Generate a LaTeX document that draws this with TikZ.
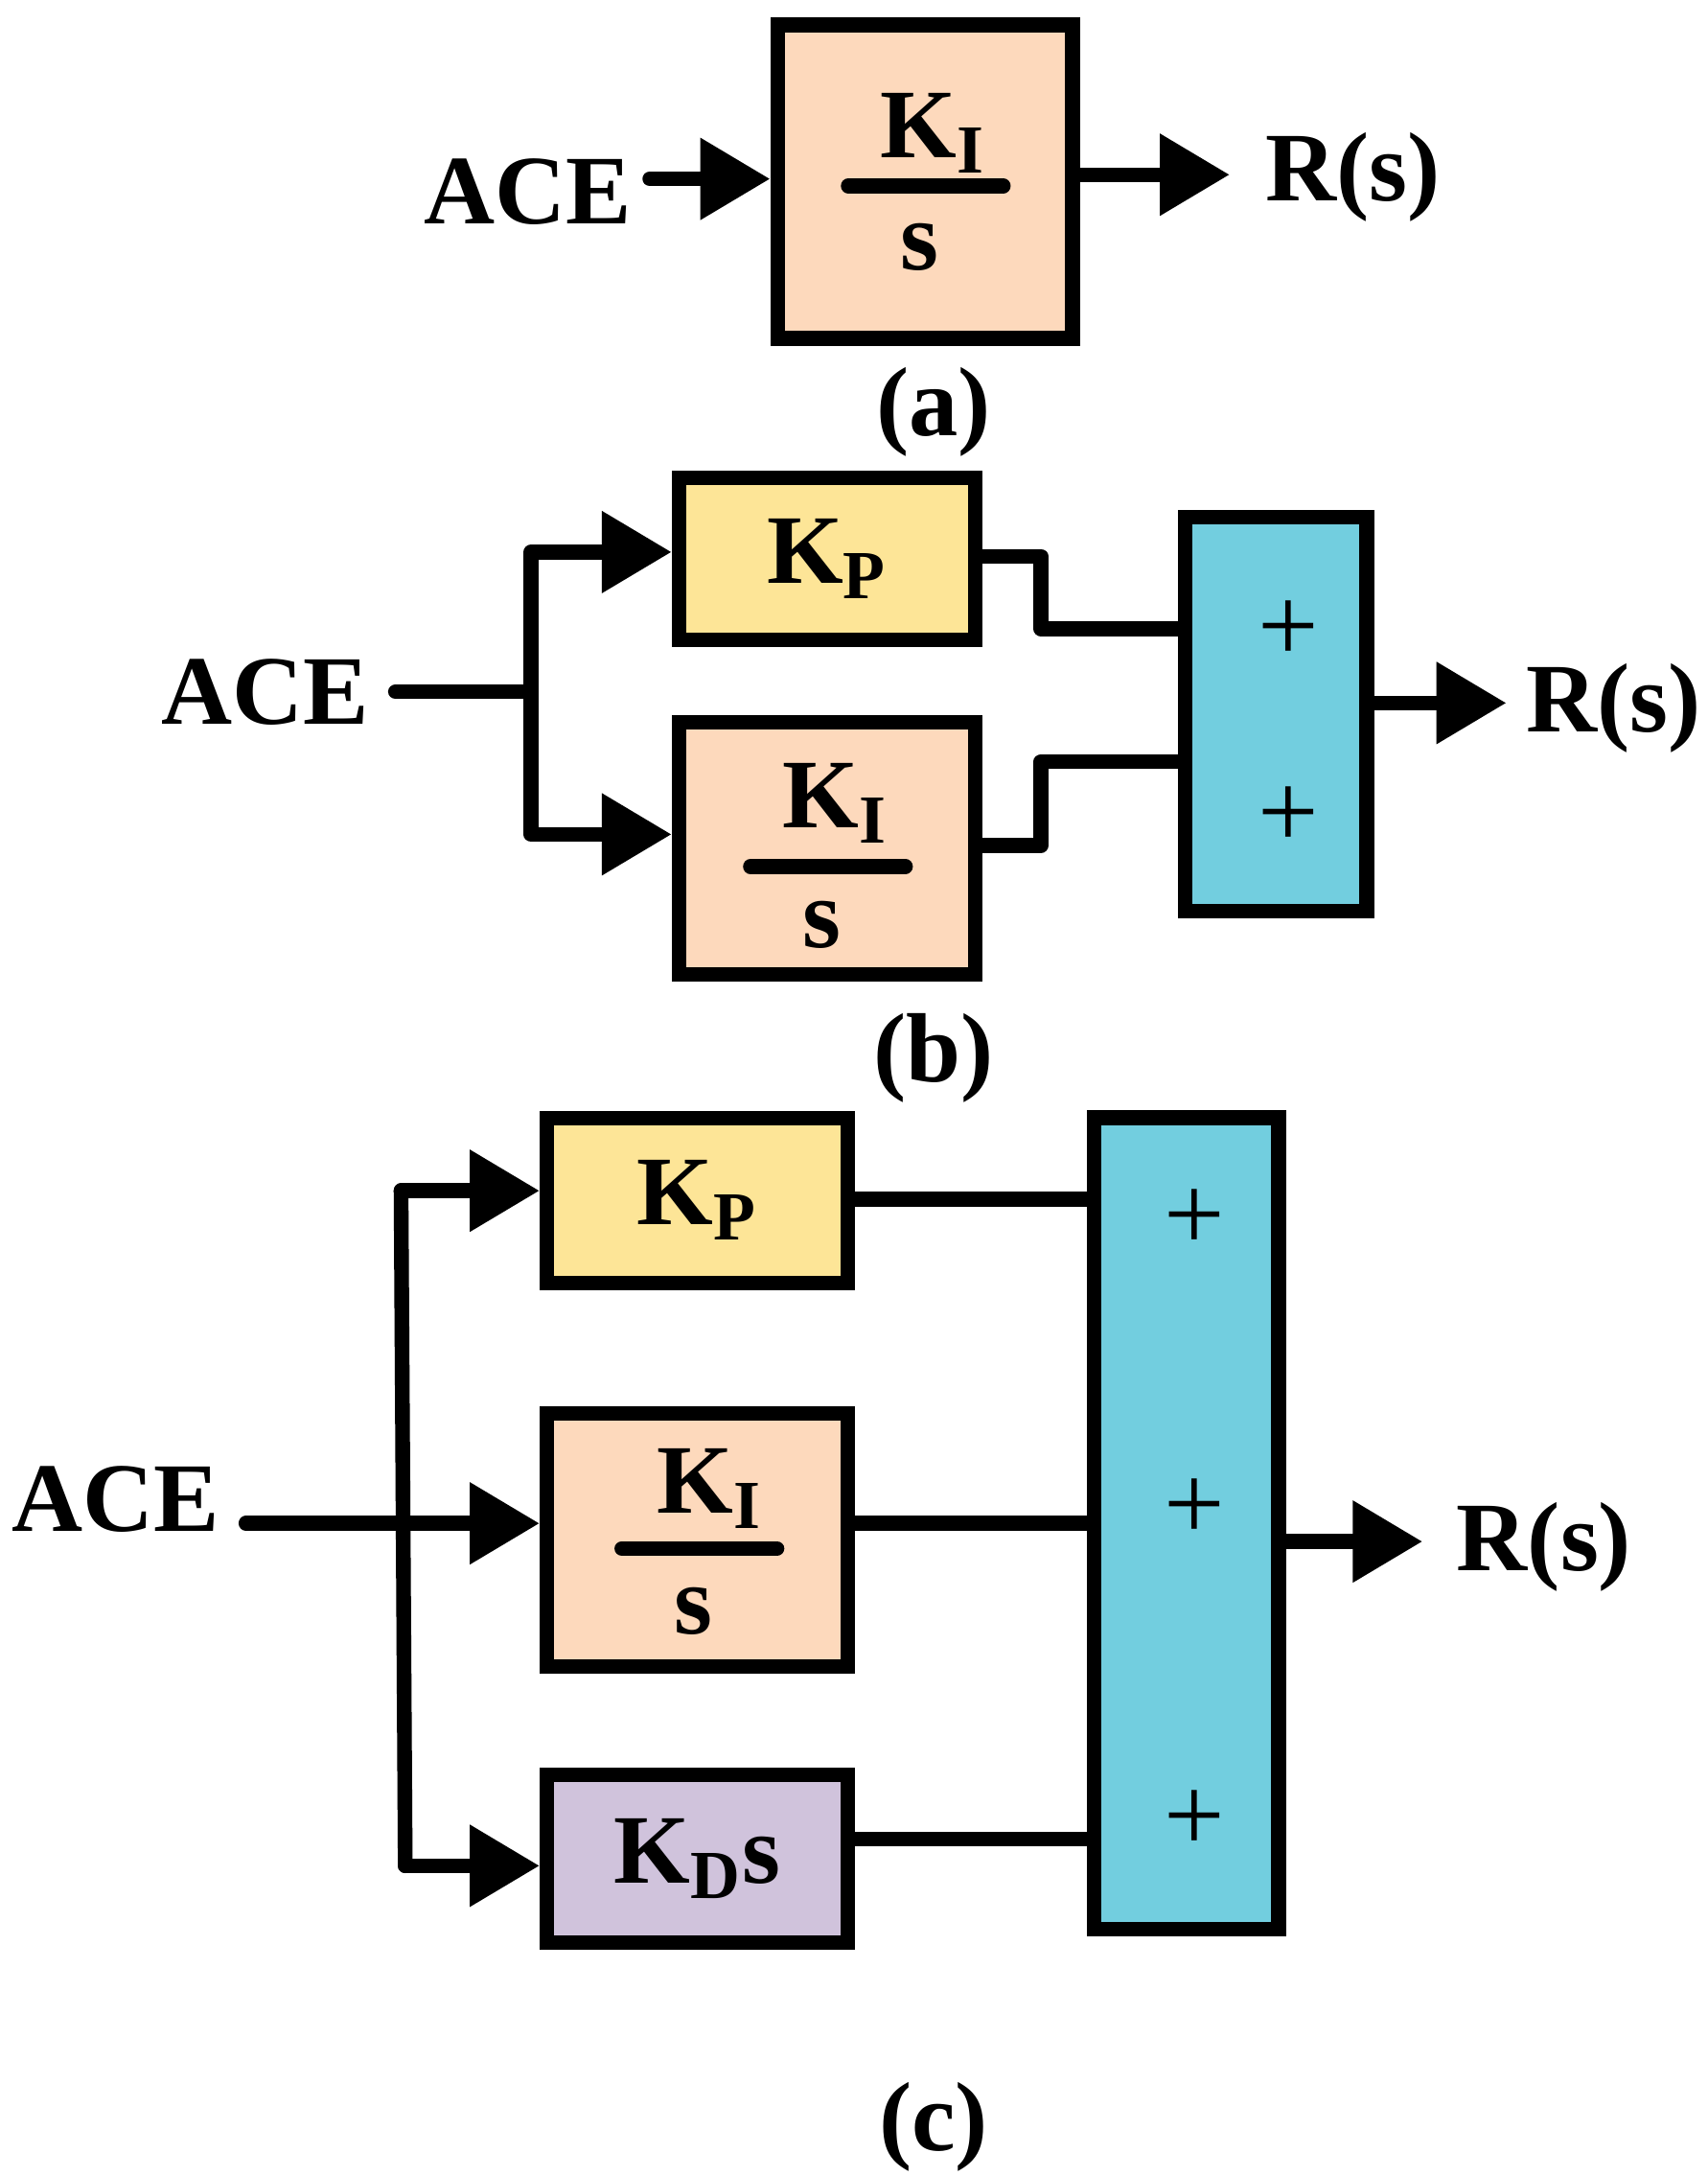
\documentclass[tikz,border=0pt]{standalone}
\usepackage{fontspec}
\setmainfont{Liberation Serif}[BoldFont={Liberation Serif Bold}]
\usetikzlibrary{arrows.meta,positioning,calc}
\definecolor{peach}{HTML}{FDD9BC}
\definecolor{yellowbox}{HTML}{FDE597}
\definecolor{cyanbox}{HTML}{72CEDF}
\definecolor{purplebox}{HTML}{D0C3DC}
\begin{document}
\begin{tikzpicture}[x=0.01cm, y=-0.01cm,
    block/.style={rectangle, draw=black, line width=3pt, inner sep=0pt},
    label/.style={font=\fontsize{20}{24}\selectfont\bfseries},
    plus/.style={font=\fontsize{22}{24}\selectfont},
    wire/.style={line width=3pt, line cap=round, line join=round},
    arr/.style={wire, -{Triangle[length=0.5cm,width=0.56cm]}},
    line width=3pt, black
    ]
    \useasboundingbox (0,0) rectangle (1222,1557);

    %Part (a)
    \node[block, fill=peach, minimum width=2.11cm, minimum height=2.24cm] (KIa) at (662,130) {};
    \node[label] (KIa_num) at (668,95) {K\textsubscript{I}};
    \coordinate (fa_l) at (607,133);
    \coordinate (fa_r) at (718,133);
    \node[label] (KIa_den) at (658,177) {s};
    \node[label] (ACEa) at (378,137) {ACE};
    \node[label] (Ra) at (968,127) {R(s)};
    \node[label] (capa) at (668,295) {(a)};

    %Part (b)
    \node[block, fill=yellowbox, minimum width=2.12cm, minimum height=1.16cm] (KPb) at (592,400) {};
    \node[label] at (KPb) {K\textsubscript{P}};
    \node[block, fill=peach, minimum width=2.12cm, minimum height=1.80cm] (KIb) at (592,607) {};
    \node[label] (KIb_num) at (598,575) {K\textsubscript{I}};
    \coordinate (fb_l) at (537,620);
    \coordinate (fb_r) at (648,620);
    \node[label] (KIb_den) at (588,662) {s};
    \node[block, fill=cyanbox, minimum width=1.30cm, minimum height=2.82cm] (SUMb) at (913,511) {};
    \node[plus] (pb1) at (922,452) {+};
    \node[plus] (pb2) at (922,585) {+};
    \node[label] (ACEb) at (190,495) {ACE};
    \node[label] (Rb) at (1155,507) {R(s)};
    \node[label] (capb) at (668,757) {(b)};
    \coordinate (splitb) at (380,495);

    %Part (c)
    \node[block, fill=yellowbox, minimum width=2.15cm, minimum height=1.18cm] (KPc) at (499,859) {};
    \node[label] at (KPc) {K\textsubscript{P}};
    \node[block, fill=peach, minimum width=2.15cm, minimum height=1.81cm] (KIc) at (499,1102) {};
    \node[label] (KIc_num) at (508,1065) {K\textsubscript{I}};
    \coordinate (fc_l) at (445,1108);
    \coordinate (fc_r) at (556,1108);
    \node[label] (KIc_den) at (496,1153) {s};
    \node[block, fill=purplebox, minimum width=2.15cm, minimum height=1.20cm] (KDc) at (499,1330) {};
    \node[label] at (KDc) {K\textsubscript{D}s};
    \node[block, fill=cyanbox, minimum width=1.32cm, minimum height=5.80cm] (SUMc) at (849,1090) {};
    \node[plus] (pc1) at (855,873) {+};
    \node[plus] (pc2) at (855,1080) {+};
    \node[plus] (pc3) at (855,1303) {+};
    \node[label] (ACEc) at (83,1073) {ACE};
    \node[label] (Rc) at (1105,1107) {R(s)};
    \node[label] (capc) at (668,1522) {(c)};
    \coordinate (splitc_t) at (287,852);
    \coordinate (splitc_b) at (290,1335);

    %Lines (a)
    \draw[arr] (465,128) -- (KIa.west |- 0,128);
    \draw[arr] (KIa.east |- 0,125) -- (880,125);
    \draw[wire] (fa_l) -- (fa_r);

    %Lines (b)
    \draw[wire] (283,495) -- (splitb);
    \draw[arr] (splitb) |- (KPb.west |- 0,395);
    \draw[arr] (splitb) |- (KIb.west |- 0,597);
    \draw[wire] (KPb.east |- 0,398) -| (745,450) -- (SUMb.west |- 0,450);
    \draw[wire] (KIb.east |- 0,605) -| (745,545) -- (SUMb.west |- 0,545);
    \draw[wire] (fb_l) -- (fb_r);
    \draw[arr] (SUMb.east |- 0,503) -- (1078,503);

    %Lines (c)
    \draw[arr] (176,1090) -- (KIc.west |- 0,1090);
    \draw[wire] (splitc_t) -- (splitc_b);
    \draw[arr] (splitc_t) -- (KPc.west |- splitc_t);
    \draw[arr] (splitc_b) -- (KDc.west |- splitc_b);
    \draw[wire] (KPc.east |- 0,858) -- (SUMc.west |- 0,858);
    \draw[wire] (KIc.east |- 0,1090) -- (SUMc.west |- 0,1090);
    \draw[wire] (KDc.east |- 0,1316) -- (SUMc.west |- 0,1316);
    \draw[wire] (fc_l) -- (fc_r);
    \draw[arr] (SUMc.east |- 0,1103) -- (1018,1103);
\end{tikzpicture}
\end{document}
